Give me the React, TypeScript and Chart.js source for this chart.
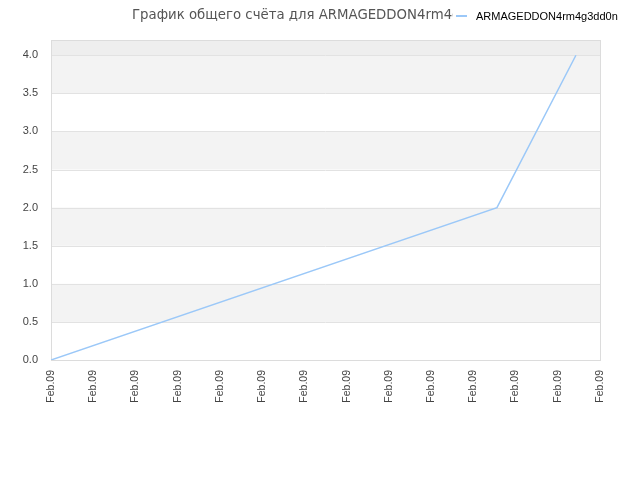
import React, { useEffect, useRef } from "react";
import { Chart, registerables } from "chart.js";

Chart.register(...registerables);

const titleText = "График общего счёта для ARMAGEDDON4rm4g3dd0n";
const seriesName = "ARMAGEDDON4rm4g3dd0n";
const xLabels = ["Feb.09", "Feb.09", "Feb.09", "Feb.09", "Feb.09", "Feb.09", "Feb.09", "Feb.09", "Feb.09", "Feb.09", "Feb.09", "Feb.09", "Feb.09", "Feb.09"];
const xPositions = [0, 10.56, 12.43];
const scores = [0, 2, 4];
const yTicks = [0, 0.5, 1, 1.5, 2, 2.5, 3, 3.5, 4];

const LINE_COLOR = "rgb(155,200,248)";
const TITLE_FONT = "'DejaVu Sans', sans-serif";
const FONT = "'Liberation Sans', Arial, sans-serif";

const bandsPlugin = {
  id: "bands",
  beforeDatasetsDraw(chart: any) {
    const { ctx, chartArea } = chart;
    const y = chart.scales.y;
    ctx.save();
    for (let i = 0; i < yTicks.length; i++) {
      const lo = yTicks[i];
      const hiVal = i + 1 < yTicks.length ? yTicks[i + 1] : y.max;
      const top = y.getPixelForValue(hiVal);
      const bottom = y.getPixelForValue(lo);
      let fill: string | null = null;
      if (i === yTicks.length - 1) fill = "#eeeeee";
      else if (i % 2 === 1) fill = "#f3f3f3";
      if (fill) {
        ctx.fillStyle = fill;
        ctx.fillRect(chartArea.left, top, chartArea.right - chartArea.left, bottom - top);
      }
    }
    ctx.strokeStyle = "#e2e2e2";
    ctx.lineWidth = 1;
    for (const v of yTicks) {
      const py = Math.round(y.getPixelForValue(v)) + 0.5;
      ctx.beginPath();
      ctx.moveTo(chartArea.left, py);
      ctx.lineTo(chartArea.right, py);
      ctx.stroke();
    }
    ctx.strokeStyle = "#dcdcdc";
    ctx.strokeRect(
      Math.round(chartArea.left) + 0.5,
      Math.round(chartArea.top) + 0.5,
      Math.round(chartArea.right - chartArea.left),
      Math.round(chartArea.bottom - chartArea.top)
    );
    ctx.restore();
  },
  afterDraw(chart: any) {
    const { ctx } = chart;
    ctx.save();
    ctx.font = `13.3px ${TITLE_FONT}`;
    ctx.fillStyle = "#555555";
    ctx.textAlign = "left";
    ctx.textBaseline = "alphabetic";
    ctx.fillText(titleText, 132, 19);
    ctx.fillStyle = "#ffffff";
    ctx.fillRect(453, 0, 187, 30);
    ctx.strokeStyle = LINE_COLOR;
    ctx.lineWidth = 2;
    ctx.beginPath();
    ctx.moveTo(456, 16);
    ctx.lineTo(467, 16);
    ctx.stroke();
    ctx.font = `11px ${FONT}`;
    ctx.fillStyle = "#000000";
    ctx.fillText(seriesName, 476, 19.5);
    ctx.restore();
  },
};

export default function App() {
  const ref = useRef<HTMLCanvasElement | null>(null);
  useEffect(() => {
    if (!ref.current) return;
    const chart = new Chart(ref.current, {
      type: "line",
      data: {
        datasets: [
          {
            label: seriesName,
            data: xPositions.map((x, i) => ({ x, y: scores[i] })),
            borderColor: LINE_COLOR,
            borderWidth: 1.5,
            pointRadius: 0,
            fill: false,
            tension: 0,
          },
        ],
      },
      options: {
        animation: false,
        responsive: false,
        maintainAspectRatio: false,
        layout: { padding: { top: 40, right: 40, left: 0, bottom: 0 } },
        plugins: {
          legend: { display: false },
          title: { display: false },
          tooltip: { enabled: false },
        },
        scales: {
          x: {
            type: "linear",
            min: 0,
            max: xLabels.length - 1,
            afterFit(scale: any) {
              scale.height = 120;
            },
            afterBuildTicks(scale: any) {
              scale.ticks = xLabels.map((_, i) => ({ value: i }));
            },
            ticks: {
              stepSize: 1,
              autoSkip: false,
              minRotation: 90,
              maxRotation: 90,
              padding: 10,
              color: "#444444",
              font: { family: FONT, size: 10.5 },
              callback: (v: any) => xLabels[Math.round(Number(v))] ?? "",
            },
            grid: { display: false, drawTicks: false },
            border: { display: false },
          },
          y: {
            type: "linear",
            min: 0,
            max: 4.2,
            afterFit(scale: any) {
              scale.width = 51;
            },
            afterBuildTicks(scale: any) {
              scale.ticks = yTicks.map((v) => ({ value: v }));
            },
            ticks: {
              stepSize: 0.5,
              includeBounds: false,
              padding: 13,
              color: "#444444",
              font: { family: FONT, size: 11 },
              callback: (v: any) => Number(v).toFixed(1),
            },
            grid: { display: false, drawTicks: false },
            border: { display: false },
          },
        },
      },
      plugins: [bandsPlugin],
    });
    return () => chart.destroy();
  }, []);
  return (
    <div style={{ position: "absolute", left: 0, top: 0, width: 640, height: 480, background: "#fff" }}>
      <canvas ref={ref} width={640} height={480} style={{ width: 640, height: 480 }} />
    </div>
  );
}
